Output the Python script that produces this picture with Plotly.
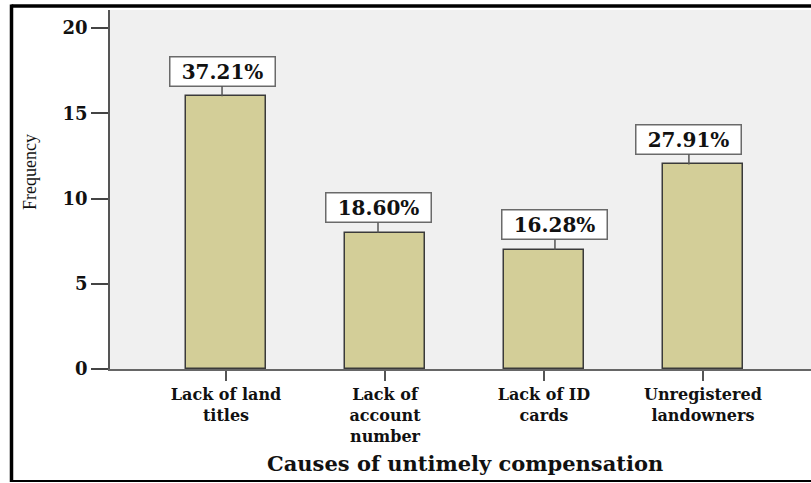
import plotly.graph_objects as go

# Causes of untimely compensation (counts of respondents)
categories = ["Lack of land<br>titles", "Lack of<br>account<br>number", "Lack of ID<br>cards", "Unregistered<br>landowners"]
frequency = [16, 8, 7, 12]
y_ticks = [0, 5, 10, 15, 20]

# horizontal nudge of each percentage label box, in pixels
label_shift = [-4, -7, 11, -14]

total = sum(frequency)
percent_text = [f"{v / total * 100:.2f}%" for v in frequency]

W, H = 811, 483
ML, MR, MT, MB = 110, 0, 10, 114
PW, PH = W - ML - MR, H - MT - MB


def px_x(px):
    return (px - ML) / PW


def px_y(py):
    return (H - MB - py) / PH


x_pos = list(range(len(categories)))

fig = go.Figure()
fig.add_trace(go.Bar(
    x=x_pos,
    y=frequency,
    width=0.5,
    marker=dict(color="#d3ce98", line=dict(color="#3a3a3a", width=1.5)),
    hoverinfo="skip",
))

serif_bold = dict(family="DejaVu Serif", color="#111111")

annotations = []
for xi, v, txt, dx in zip(x_pos, frequency, percent_text, label_shift):
    annotations.append(dict(
        x=xi, y=v, xref="x", yref="y",
        text=f"<b>{txt}</b>",
        showarrow=True, arrowhead=0, arrowwidth=1.5, arrowcolor="#555555",
        ax=0, ay=-25, xshift=dx,
        font=dict(size=20, **serif_bold),
        bgcolor="white", bordercolor="#6a6a6a", borderwidth=1.5, borderpad=1,
        width=102, height=26,
    ))

# axis titles
annotations.append(dict(
    x=px_x(465), y=px_y(463), xref="paper", yref="paper",
    text="<b>Causes of untimely compensation</b>", showarrow=False,
    xanchor="center", yanchor="middle",
    font=dict(size=21, **serif_bold),
))
annotations.append(dict(
    x=px_x(30), y=px_y(172), xref="paper", yref="paper",
    text="Frequency", showarrow=False, textangle=-90,
    xanchor="center", yanchor="middle",
    font=dict(size=18, family="Liberation Serif", color="#111111"),
))

# outer frame
frame = "#000000"
shapes = [
    dict(type="line", xref="paper", yref="paper",
         x0=px_x(11.5), x1=px_x(815), y0=px_y(6), y1=px_y(6),
         line=dict(color=frame, width=3.5)),
    dict(type="line", xref="paper", yref="paper",
         x0=px_x(11.5), x1=px_x(11.5), y0=px_y(4.5), y1=px_y(482),
         line=dict(color=frame, width=3.5)),
    dict(type="line", xref="paper", yref="paper",
         x0=px_x(10), x1=px_x(815), y0=px_y(481), y1=px_y(481),
         line=dict(color=frame, width=2)),
]

fig.update_layout(
    width=W, height=H,
    margin=dict(l=ML, r=MR, t=MT, b=MB),
    paper_bgcolor="white",
    plot_bgcolor="#f0f0f0",
    showlegend=False,
    bargap=0,
    annotations=annotations,
    shapes=shapes,
)

fig.update_xaxes(
    range=[-0.73, 3.68],
    tickmode="array", tickvals=x_pos, ticktext=[f"<b>{c}</b>" for c in categories],
    ticks="outside", ticklen=10, tickwidth=2, tickcolor="#555555",
    showline=True, linecolor="#666666", linewidth=2,
    showgrid=False, zeroline=False,
    tickfont=dict(size=16, **serif_bold),
)
fig.update_yaxes(
    range=[0, 21.06],
    tickmode="array", tickvals=y_ticks, ticktext=[f"<b>{t}</b>" for t in y_ticks],
    ticks="outside", ticklen=17, tickwidth=1.5, tickcolor="#444444",
    showline=True, linecolor="#555555", linewidth=1.5,
    showgrid=False, zeroline=False,
    tickfont=dict(size=18, **serif_bold),
)

fig.write_html("out.html")
